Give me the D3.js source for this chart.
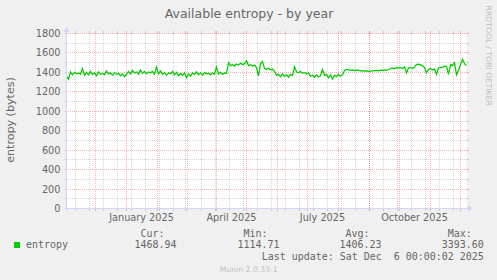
<!DOCTYPE html>
<html><head><meta charset="utf-8">
<script src="https://cdn.jsdelivr.net/npm/d3@7/dist/d3.min.js"></script>
<style>
html,body{margin:0;padding:0;background:#F0F0F0;}
svg{display:block;}
text{font-family:"DejaVu Sans";}
.mono{font-family:"DejaVu Sans Mono";white-space:pre;}
</style>
</head><body><svg id="c" width="497" height="280"></svg>
<script>
// ---- data ----
const startDay = Date.UTC(2024, 10, 2);   // first sample
const stepDays = 2;                        // sample spacing (days)
const entropy = [
1360,1330,1405,1375,1400,1385,1395,1380,1440,1370,
1400,1375,1410,1380,1395,1365,1405,1380,1390,1375,
1415,1385,1395,1370,1400,1380,1390,1365,1385,1355,
1380,1410,1385,1420,1395,1405,1380,1425,1390,1410,
1385,1405,1395,1410,1380,1455,1385,1415,1380,1400,
1370,1395,1385,1410,1375,1400,1365,1390,1370,1395,
1345,1385,1360,1395,1380,1405,1375,1395,1370,1400,
1385,1390,1375,1395,1380,1455,1385,1400,1380,1395,
1390,1500,1470,1480,1465,1485,1475,1495,1480,1490,
1520,1470,1480,1465,1475,1450,1365,1490,1510,1440,
1430,1445,1425,1435,1410,1370,1380,1355,1385,1360,
1375,1350,1380,1370,1460,1405,1395,1410,1390,1400,
1385,1395,1360,1370,1350,1375,1355,1365,1430,1370,
1380,1345,1375,1330,1370,1355,1380,1360,1375,1420,
1430,1425,1420,1425,1418,1422,1420,1415,1418,1412,
1415,1410,1412,1415,1418,1420,1416,1422,1420,1425,
1422,1430,1440,1445,1438,1450,1445,1450,1440,1455,
1395,1445,1450,1440,1455,1480,1485,1478,1470,1450,
1395,1430,1440,1425,1435,1380,1445,1455,1450,1465,
1460,1380,1480,1470,1500,1375,1420,1480,1535,1490,
1470
];
const yTicks = [0,200,400,600,800,1000,1200,1400,1600,1800];
const xLabelDates = [Date.UTC(2025,0,1), Date.UTC(2025,3,1), Date.UTC(2025,6,1), Date.UTC(2025,9,1)];
const xLabelTexts = ["January 2025","April 2025","July 2025","October 2025"];
const statLabels = ["Cur:","Min:","Avg:","Max:"];
const statValues = ["1468.94","1114.71","1406.23","3393.60"];
const seriesName = "entropy";
const title = "Available entropy - by year";
const yLabel = "entropy (bytes)";
const lastUpdate = "Last update: Sat Dec  6 00:00:02 2025";
const version = "Munin 2.0.33-1";
const watermark = "RRDTOOL / TOBI OETIKER";

// ---- layout ----
const DAY = 86400000;
const tStart = Date.UTC(2024,10,2), tEnd = Date.UTC(2025,11,7);
const X0 = 66.5, X1 = 466.5, Y0 = 208.5, Y1 = 33.5;
const x = d3.scaleUtc().domain([tStart, tEnd]).range([X0, X1]);
const y = d3.scaleLinear().domain([0, 1800]).range([Y0, Y1]);
const FONT = "#666666", AXIS = "#CFD6F8";
const GRID = "rgba(143,143,143,0.38)", MGRID = "rgba(235,60,60,0.38)";

const svg = d3.select("#c");
svg.append("rect").attr("width",497).attr("height",280).attr("fill","#F0F0F0");
svg.append("rect").attr("x",X0).attr("y",Y1).attr("width",X1-X0).attr("height",Y0-Y1).attr("fill","#FFFFFF");

const g = svg.append("g").attr("shape-rendering","crispEdges");
function hline(v, col){
  const py = y(v);
  g.append("line").attr("x1",X0+1).attr("x2",X1).attr("y1",py).attr("y2",py)
   .attr("stroke",col).attr("stroke-dasharray","1,1");
  g.append("line").attr("x1",X0-2).attr("x2",X0).attr("y1",py).attr("y2",py).attr("stroke",col);
  g.append("line").attr("x1",X1).attr("x2",X1+2).attr("y1",py).attr("y2",py).attr("stroke",col);
}
function vline(t, col){
  const px = x(t);
  g.append("line").attr("x1",px).attr("x2",px).attr("y1",Y0-0.5).attr("y2",Y1)
   .attr("stroke",col).attr("stroke-dasharray","1,1");
  g.append("line").attr("x1",px).attr("x2",px).attr("y1",Y0).attr("y2",Y0+2.5).attr("stroke",col);
  g.append("line").attr("x1",px).attr("x2",px).attr("y1",Y1-2.5).attr("y2",Y1).attr("stroke",col);
}
// minor horizontal grid (odd hundreds)
d3.range(100, 1800, 200).forEach(v => hline(v, GRID));
// minor vertical grid: every second Monday
d3.utcMonday.range(Date.UTC(2024,9,28), tEnd).filter((d,i)=>i%2===0)
  .filter(d => d > tStart && d < tEnd).forEach(d => vline(d, GRID));
// major grid
yTicks.filter(v => v>0).forEach(v => hline(v, MGRID));
d3.utcMonth.range(tStart, tEnd).forEach(d => vline(d, MGRID));

// data line
const pts = entropy.map((v,i) => ({t: startDay + i*stepDays*DAY, v}));
svg.append("path").datum(pts)
  .attr("d", d3.line().x(d => x(d.t)).y(d => y(d.v)))
  .attr("fill","none").attr("stroke","#00CC00").attr("stroke-width",1.25);

// axes
const ax = svg.append("g").attr("shape-rendering","crispEdges");
ax.append("line").attr("x1",X0-2).attr("x2",X1+2).attr("y1",Y0).attr("y2",Y0).attr("stroke",AXIS);
ax.append("line").attr("x1",X0).attr("x2",X0).attr("y1",Y0+2).attr("y2",Y1-2).attr("stroke",AXIS);
svg.append("path").attr("d",`M${X1+1.5},${Y0-3}L${X1+6.5},${Y0}L${X1+1.5},${Y0+3}Z`).attr("fill",AXIS);
svg.append("path").attr("d",`M${X0-3},${Y1-1.5}L${X0},${Y1-6.5}L${X0+3},${Y1-1.5}Z`).attr("fill",AXIS);

// y tick labels
svg.append("g").selectAll("text").data(yTicks).join("text")
  .attr("x", 60.5).attr("y", d => y(d)+3.5).attr("text-anchor","end")
  .attr("font-size","9.72px").attr("fill",FONT).text(d => d);
// x labels (centered mid-month)
svg.append("g").selectAll("text").data(xLabelDates).join("text")
  .attr("x", (d) => x(d + 15*DAY)).attr("y", 220.5).attr("text-anchor","middle")
  .attr("font-size","9.72px").attr("fill",FONT).text((d,i) => xLabelTexts[i]);

// title
svg.append("text").attr("x",249).attr("y",18).attr("text-anchor","middle")
  .attr("font-size","12.5px").attr("fill",FONT).text(title);
// y label
svg.append("text").attr("transform","translate(14,120) rotate(-90)").attr("text-anchor","middle")
  .attr("font-size","11.1px").attr("fill",FONT).text(yLabel);
// watermark
svg.append("text").attr("transform","translate(486,5.5) rotate(90)").attr("text-anchor","start")
  .attr("font-size","7.8px").attr("fill","#BFBFBF").text(watermark);

// legend
svg.append("rect").attr("x",14).attr("y",242).attr("width",6).attr("height",6).attr("fill","#00CC00");
svg.append("text").attr("class","mono").attr("x",26).attr("y",248.3)
  .attr("font-size","9.97px").attr("fill",FONT).text(seriesName);
const headEnds = [164.5, 267.5, 369.5, 471.8];
const valEnds = [176.5, 279.5, 381.5, 483.8];
statLabels.forEach((s,i) => {
  svg.append("text").attr("class","mono").attr("x",headEnds[i]).attr("y",236.5).attr("text-anchor","end")
    .attr("font-size","9.97px").attr("fill",FONT).text(s);
  svg.append("text").attr("class","mono").attr("x",valEnds[i]).attr("y",248.3).attr("text-anchor","end")
    .attr("font-size","9.97px").attr("fill",FONT).text(statValues[i]);
});
svg.append("text").attr("class","mono").attr("x",483.8).attr("y",260).attr("text-anchor","end")
  .attr("font-size","9.97px").attr("fill",FONT).text(lastUpdate);
svg.append("text").attr("x",248.7).attr("y",271.5).attr("text-anchor","middle")
  .attr("font-size","7.7px").attr("fill","#BFBFBF").text(version);
</script>
</body></html>
